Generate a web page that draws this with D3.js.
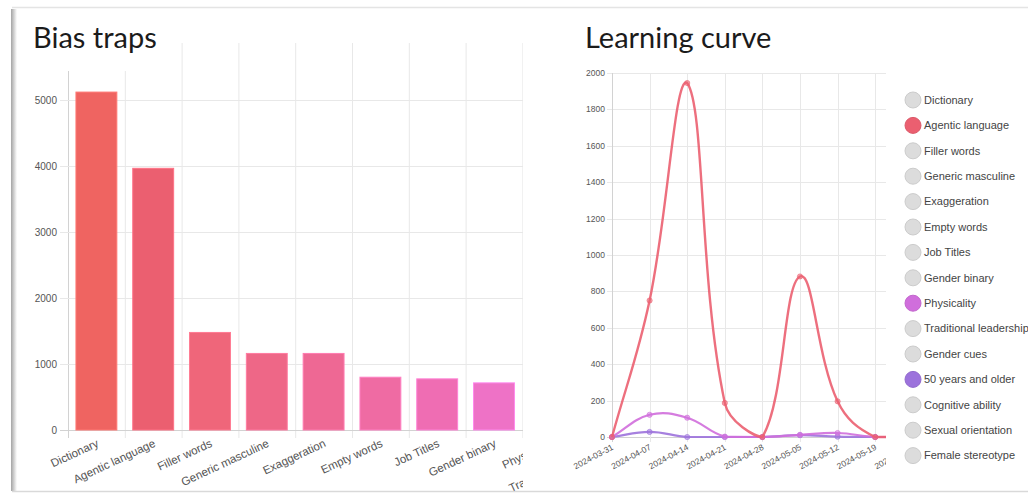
<!DOCTYPE html>
<html><head><meta charset="utf-8">
<script src="https://cdn.jsdelivr.net/npm/d3@7"></script>
<style>
html,body{margin:0;padding:0;background:#fff;overflow:hidden;}
svg{display:block;}
</style></head>
<body>
<svg id="chart" width="1028" height="494"></svg>
<script>
// ---------- data ----------
const categories = ["Dictionary","Agentic language","Filler words","Generic masculine","Exaggeration","Empty words","Job Titles","Gender binary","Physicality","Traditional leadership","Gender cues","50 years and older","Cognitive ability","Sexual orientation","Female stereotype"];
const biasCounts = [5120, 3965, 1478, 1160, 1160, 800, 775, 714];
const biasTicks = [0, 1000, 2000, 3000, 4000, 5000];

const weeks = ["2024-03-31","2024-04-07","2024-04-14","2024-04-21","2024-04-28","2024-05-05","2024-05-12","2024-05-19","2024-05-26"];
const agenticSeries     = [0, 750, 1945, 187, 0, 882, 196, 0, 0];
const physicalitySeries = [0, 122, 106, 2, 0, 12, 22, 0, 0];
const olderSeries       = [0, 28, 0, 0, 0, 10, 2, 0, 0];
const curveTicks = [0, 200, 400, 600, 800, 1000, 1200, 1400, 1600, 1800, 2000];
const shownSeries = ["Agentic language", "Physicality", "50 years and older"];

// ---------- styles ----------
const palette = ["#EF6461","#EB5F70","#EF667A","#EE6787","#EE6894","#EF6BA3","#EF6DB3","#EE72C6","#D06EDC","#C36FDC","#B071DC","#9C72DC","#8A74DC","#7A76DC","#6C78DC"];
const tickFont = "Helvetica, Arial, 'Liberation Sans', sans-serif";
const titleFont = "Lato, 'Open Sans', sans-serif";
const gridColor = "#e8e8e8";
const axisColor = "#d2d2d2";
const textColor = "#555";

const svg = d3.select("#chart");
const defs = svg.append("defs");

// ---------- card frame ----------
const sh = defs.append("linearGradient").attr("id","shadow").attr("x1","0").attr("x2","1");
sh.append("stop").attr("offset","0").attr("stop-color","#a4a4a4");
sh.append("stop").attr("offset","1").attr("stop-color","#ffffff");
svg.append("rect").attr("x",11).attr("y",9).attr("width",6).attr("height",482).attr("fill","url(#shadow)");
svg.append("line").attr("x1",12).attr("x2",1028).attr("y1",7.5).attr("y2",7.5).attr("stroke","#e4e4e4").attr("stroke-width",1.5);
svg.append("line").attr("x1",12).attr("x2",1028).attr("y1",491.5).attr("y2",491.5).attr("stroke","#d9d9d9").attr("stroke-width",1.5);

// ================= LEFT: Bias traps =================
const L = {left:68, top:43, bottom:430, clip:523, step:56.8};
defs.append("clipPath").attr("id","clipL").append("rect").attr("x",0).attr("y",0).attr("width",L.clip).attr("height",494);
const gL = svg.append("g").attr("clip-path","url(#clipL)");

const xb = d3.scaleBand().domain(categories).range([L.left, L.left + L.step*categories.length]).padding(0);
const yb = d3.scaleLinear().domain([0, 5000]).range([L.bottom, L.bottom - 330]);

// vertical grid (band edges)
const edges = categories.map(c => xb(c)).concat([xb(categories[categories.length-1]) + xb.bandwidth()]);
gL.append("g").selectAll("line").data(edges).join("line")
  .attr("x1", d => d + 0.5).attr("x2", d => d + 0.5)
  .attr("y1", L.top).attr("y2", L.bottom + 8)
  .attr("stroke", (d,i) => i === 0 ? axisColor : gridColor).attr("stroke-width", 1);
// horizontal grid
gL.append("g").selectAll("line").data(biasTicks).join("line")
  .attr("x1", L.left - 8).attr("x2", L.clip)
  .attr("y1", d => Math.round(yb(d)) + 0.5).attr("y2", d => Math.round(yb(d)) + 0.5)
  .attr("stroke", d => d === 0 ? axisColor : gridColor).attr("stroke-width", 1);

// bars
const barW = xb.bandwidth() * 0.72;
gL.append("g").selectAll("rect").data(biasCounts).join("rect")
  .attr("x", (d,i) => xb(categories[i]) + (xb.bandwidth() - barW)/2)
  .attr("width", barW)
  .attr("y", d => yb(d))
  .attr("height", d => yb(0) - yb(d))
  .attr("fill", (d,i) => palette[i])
  .attr("stroke", (d,i) => d3.color(palette[i]).brighter(0.5))
  .attr("stroke-width", 1);

// y tick labels
gL.append("g").selectAll("text").data(biasTicks).join("text")
  .attr("x", L.left - 11).attr("y", d => yb(d)).attr("dy","0.35em")
  .attr("text-anchor","end").attr("font-family", tickFont).attr("font-size", 10)
  .attr("fill", textColor).text(d => d);

// x tick labels
gL.append("g").selectAll("text").data(categories).join("text")
  .attr("transform", d => `translate(${xb(d) + xb.bandwidth()/2 + 3},${L.bottom + 16}) rotate(-25)`)
  .attr("text-anchor","end").attr("font-family", tickFont).attr("font-size", 11.5)
  .attr("fill", textColor).text(d => d);

// title with white backing
svg.append("rect").attr("x",20).attr("y",12).attr("width",150).attr("height",59).attr("fill","#fff");
svg.append("text").attr("x",33).attr("y",48).attr("font-family",titleFont).attr("font-size",29)
  .attr("fill","#1b1b1b").text("Bias traps");

// ================= RIGHT: Learning curve =================
const R = {left:612, top:73, bottom:437, clip:886, step:37.6};
const parse = d3.timeParse("%Y-%m-%d");
const dates = weeks.map(parse);
const xt = d3.scaleTime().domain([dates[0], dates[dates.length-1]]).range([R.left, R.left + R.step*(dates.length-1)]);
const yt = d3.scaleLinear().domain([0, 2000]).range([R.bottom, R.top]);

defs.append("clipPath").attr("id","clipR").append("rect").attr("x",540).attr("y",0).attr("width",R.clip-540).attr("height",494);
const gR = svg.append("g").attr("clip-path","url(#clipR)");

// grid
gR.append("g").selectAll("line").data(curveTicks).join("line")
  .attr("x1", R.left - 5).attr("x2", R.clip)
  .attr("y1", d => Math.round(yt(d)) + 0.5).attr("y2", d => Math.round(yt(d)) + 0.5)
  .attr("stroke", d => d === 0 ? axisColor : gridColor);
gR.append("g").selectAll("line").data(dates).join("line")
  .attr("x1", d => Math.round(xt(d)) + 0.5).attr("x2", d => Math.round(xt(d)) + 0.5)
  .attr("y1", R.top).attr("y2", R.bottom + 5)
  .attr("stroke", (d,i) => i === 0 ? axisColor : gridColor);

// y labels
gR.append("g").selectAll("text").data(curveTicks).join("text")
  .attr("x", R.left - 7).attr("y", d => yt(d)).attr("dy","0.35em")
  .attr("text-anchor","end").attr("font-family", tickFont).attr("font-size", 8.5)
  .attr("fill", textColor).text(d => d);
// x labels
const fmt = d3.timeFormat("%Y-%m-%d");
gR.append("g").selectAll("text").data(dates).join("text")
  .attr("transform", d => `translate(${xt(d) + 2},${R.bottom + 12}) rotate(-28)`)
  .attr("text-anchor","end").attr("font-family", tickFont).attr("font-size", 8.5)
  .attr("fill", textColor).text(d => fmt(d));

// Chart.js style spline (tension 0.4, control points capped to chart area)
function splinePath(pts, t) {
  const n = pts.length;
  const right = xt(dates[dates.length-1]);
  const cap = (v, a, b) => Math.max(a, Math.min(b, v));
  const cps = pts.map((p, i) => {
    const prev = i > 0 ? pts[i-1] : p, next = i < n-1 ? pts[i+1] : p;
    const d01 = Math.hypot(p[0]-prev[0], p[1]-prev[1]);
    const d12 = Math.hypot(next[0]-p[0], next[1]-p[1]);
    let s01 = d01/(d01+d12), s12 = d12/(d01+d12);
    if (isNaN(s01)) s01 = 0; if (isNaN(s12)) s12 = 0;
    const fa = t*s01, fb = t*s12;
    return {
      px: cap(p[0] - fa*(next[0]-prev[0]), R.left, right), py: cap(p[1] - fa*(next[1]-prev[1]), R.top, R.bottom),
      nx: cap(p[0] + fb*(next[0]-prev[0]), R.left, right), ny: cap(p[1] + fb*(next[1]-prev[1]), R.top, R.bottom)
    };
  });
  const path = d3.path();
  path.moveTo(pts[0][0], pts[0][1]);
  for (let i = 1; i < n; i++) {
    path.bezierCurveTo(cps[i-1].nx, cps[i-1].ny, cps[i].px, cps[i].py, pts[i][0], pts[i][1]);
  }
  return path.toString();
}

const seriesData = [
  {name:"50 years and older", values: olderSeries},
  {name:"Physicality", values: physicalitySeries},
  {name:"Agentic language", values: agenticSeries}
];
seriesData.forEach(s => {
  const color = palette[categories.indexOf(s.name)];
  const pts = s.values.map((v, i) => [xt(dates[i]), yt(v)]);
  gR.append("path").attr("d", splinePath(pts, 0.4)).attr("fill","none")
    .attr("stroke", color).attr("stroke-width", s.name === "Agentic language" ? 2.4 : 2.2)
    .attr("stroke-opacity", 0.9);
  gR.append("g").selectAll("circle").data(pts).join("circle")
    .attr("cx", d => d[0]).attr("cy", d => d[1]).attr("r", 2.6)
    .attr("fill", color).attr("fill-opacity", 0.55)
    .attr("stroke", color).attr("stroke-opacity", 0.6);
});

svg.append("text").attr("x",585).attr("y",48).attr("font-family",titleFont).attr("font-size",29)
  .attr("fill","#1b1b1b").text("Learning curve");

// legend
const lg = svg.append("g").selectAll("g").data(categories).join("g")
  .attr("transform", (d,i) => `translate(913,${100 + i*25.4})`);
lg.append("circle").attr("r", 8)
  .attr("fill", (d,i) => shownSeries.includes(d) ? palette[i] : "#dcdcdc")
  .attr("stroke", (d,i) => shownSeries.includes(d) ? d3.color(palette[i]).darker(0.2) : "#cccccc")
  .attr("stroke-width", 1);
lg.append("text").attr("x", 11).attr("dy","0.35em")
  .attr("font-family", tickFont).attr("font-size", 11).attr("fill", "#444").text(d => d);
</script>
</body></html>
